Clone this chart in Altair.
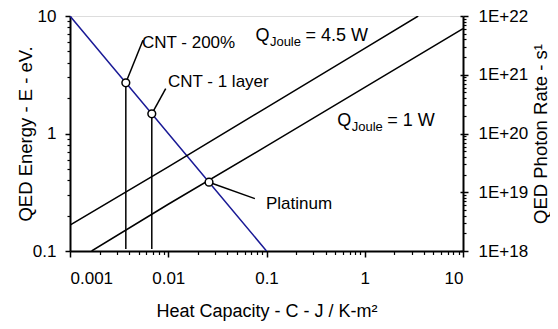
import altair as alt
import pandas as pd

# ---------------- data ----------------
blue_c = [0.001, 0.0027, 0.0037, 0.0068, 0.01, 0.026, 0.1]
blue_e = [10, 3.7, 2.7, 1.47, 1.0, 0.385, 0.1]

q45_c = [0.001, 0.01, 0.1, 1, 3.5]
q45_e = [0.166, 0.52, 1.66, 5.3, 10]

q1_c = [0.00166, 0.01, 0.1, 1, 10]
q1_e = [0.1, 0.25, 0.78, 2.47, 7.8]

mark_names = ["CNT - 200%", "CNT - 1 layer", "Platinum"]
mark_c = [0.0037, 0.0068, 0.026]
mark_e = [2.7, 1.47, 0.385]

drop_c = [0.0037, 0.0068]
drop_top = [2.7, 1.47]
drop_bottom = [0.104, 0.104]

lead_c2 = [0.00553, 0.00942, 0.0762]
lead_e2 = [6.21, 2.41, 0.279]

label_c = [0.0054, 0.00993, 0.0986]
label_e = [5.86, 2.73, 0.253]

q_names = ["4.5 W", "1 W"]
q_c = [0.0771, 0.525]
q_e = [6.15, 1.163]
q_tail = ["= 4.5 W", "= 1 W"]

x_major = [0.001, 0.01, 0.1, 1, 10]
x_minor = [m * 10.0 ** e for e in range(-3, 1) for m in range(2, 10)]
y_major = [0.1, 1, 10]
y_minor = [m * 10.0 ** e for e in range(-1, 1) for m in range(2, 10)]
r_major = [1e18, 1e19, 1e20, 1e21, 1e22]
r_minor = [m * 10.0 ** e for e in range(18, 22) for m in range(2, 10)]

FONT = "Liberation Sans"
BLUE = "#1a1a96"

xs = alt.Scale(type="log", domain=[0.001, 10], nice=False)
ys = alt.Scale(type="log", domain=[0.1, 10], nice=False)
rs = alt.Scale(type="log", domain=[1e18, 1e22], nice=False)

blue_df = pd.DataFrame({"c": blue_c, "e": blue_e})
lines_df = pd.DataFrame({
    "c": q45_c + q1_c,
    "e": q45_e + q1_e,
    "q": ["4.5"] * len(q45_c) + ["1"] * len(q1_c),
})
marks_df = pd.DataFrame({"name": mark_names, "c": mark_c, "e": mark_e,
                         "c2": lead_c2, "e2": lead_e2,
                         "lc": label_c, "le": label_e})
drops_df = pd.DataFrame({"c": drop_c, "e": drop_bottom, "e2": drop_top})
q_df = pd.DataFrame({"name": q_names, "c": q_c, "e": q_e, "tail": q_tail,
                     "sub": ["Joule", "Joule"]})
r_df = pd.DataFrame({"r": r_major})


def X(field, axis=None):
    return alt.X(field, type="quantitative", scale=xs, axis=axis)


def Y(field, axis=None):
    return alt.Y(field, type="quantitative", scale=ys, axis=axis)


common_axis = dict(grid=False, labelFont=FONT, titleFont=FONT, labelColor="black",
                   titleColor="black", tickColor="black", domainColor="black",
                   labelFontSize=17, titleFontWeight="normal")

x_axis_major = alt.Axis(orient="bottom", values=x_major, format="~g", tickSize=6,
                        tickWidth=1.5, domainWidth=2, labelPadding=13,
                        title="Heat Capacity - C - J / K-m²", titleY=60,
                        titleFontSize=18, titleBaseline="middle", **common_axis)
x_axis_minor = alt.Axis(orient="bottom", values=x_minor, labels=False, domain=False,
                        tickSize=3.5, tickWidth=1.2, title=None, grid=False,
                        tickColor="black")
y_axis_major = alt.Axis(orient="left", values=y_major, format="~g", tickSize=5,
                        tickWidth=1.5, domainWidth=2, labelPadding=9,
                        title="QED Energy - E - eV.", titleX=-45, titleY=117.5,
                        titleFontSize=18.5, titleAngle=270, titleBaseline="middle",
                        **common_axis)
y_axis_minor = alt.Axis(orient="left", values=y_minor, labels=False, domain=False,
                        tickSize=3, tickWidth=1.2, title=None, grid=False,
                        tickColor="black")
r_axis_major = alt.Axis(orient="right", values=r_major, tickSize=5, tickWidth=1.5,
                        domainWidth=2, labelPadding=10,
                        labelExpr="'1E+' + format(log(datum.value) / LN10, '.0f')",
                        title="QED Photon Rate - s¹", titleX=77, titleY=117.5,
                        titleFontSize=18.5, titleAngle=270, titleBaseline="middle",
                        **common_axis)
r_axis_minor = alt.Axis(orient="right", values=r_minor, labels=False, domain=False,
                        tickSize=3, tickWidth=1.2, title=None, grid=False,
                        tickColor="black")
r_axis_inner = alt.Axis(orient="left", offset=-393, values=r_major, labels=False,
                        domain=False, tickSize=3, tickWidth=1.5, title=None,
                        grid=False, tickColor="black")

blue_line = alt.Chart(blue_df).mark_line(color=BLUE, strokeWidth=1.5, clip=True).encode(
    x=X("c", x_axis_major), y=Y("e", y_axis_major))

minor_layer = alt.Chart(blue_df).mark_point(opacity=0).encode(
    x=X("c", x_axis_minor), y=Y("e", y_axis_minor))

q_lines = alt.Chart(lines_df).mark_line(color="black", strokeWidth=1.5, clip=True).encode(
    x=X("c"), y=Y("e"), detail="q:N")

drops = alt.Chart(drops_df).mark_rule(color="black", strokeWidth=1.5).encode(
    x=X("c"), y=Y("e"), y2="e2")

leaders = alt.Chart(marks_df).mark_rule(color="black", strokeWidth=1.5).encode(
    x=X("c"), y=Y("e"), x2="c2", y2="e2")

circles = alt.Chart(marks_df).mark_point(shape="circle", filled=True, fill="white",
                                         stroke="black", strokeWidth=1.5, size=60,
                                         opacity=1).encode(
    x=X("c"), y=Y("e"))

labels = alt.Chart(marks_df).mark_text(font=FONT, fontSize=17, align="left",
                                       baseline="middle", color="black").encode(
    x=X("lc"), y=Y("le"), text="name:N")

q_main = alt.Chart(q_df).mark_text(font=FONT, fontSize=18, align="left",
                                   baseline="alphabetic", color="black").encode(
    x=X("c"), y=Y("e"), text=alt.value("Q"))
q_sub = alt.Chart(q_df).mark_text(font=FONT, fontSize=13, align="left", dx=14.5, dy=5,
                                  baseline="alphabetic", color="black").encode(
    x=X("c"), y=Y("e"), text="sub:N")
q_rest = alt.Chart(q_df).mark_text(font=FONT, fontSize=18, align="left", dx=50,
                                   baseline="alphabetic", color="black").encode(
    x=X("c"), y=Y("e"), text="tail:N")

right_axis = alt.Chart(r_df).mark_point(opacity=0).encode(
    y=alt.Y("r", type="quantitative", scale=rs, axis=r_axis_major))
right_minor = alt.Chart(r_df).mark_point(opacity=0).encode(
    y=alt.Y("r", type="quantitative", scale=rs, axis=r_axis_minor))
right_inner = alt.Chart(r_df).mark_point(opacity=0).encode(
    y=alt.Y("r", type="quantitative", scale=rs, axis=r_axis_inner))

chart = alt.layer(
    blue_line, minor_layer, q_lines, drops, leaders, circles, labels,
    q_main, q_sub, q_rest, right_axis, right_minor, right_inner
).resolve_scale(x="independent", y="independent").properties(
    width=393, height=235,
    padding={"left": 62, "top": 8, "right": 87, "bottom": 70},
    autosize=alt.AutoSizeParams(type="none"),
).configure_view(stroke="black", strokeWidth=2).configure(background="white")

chart.save("out.html", embed_options={"renderer": "svg", "actions": False})
